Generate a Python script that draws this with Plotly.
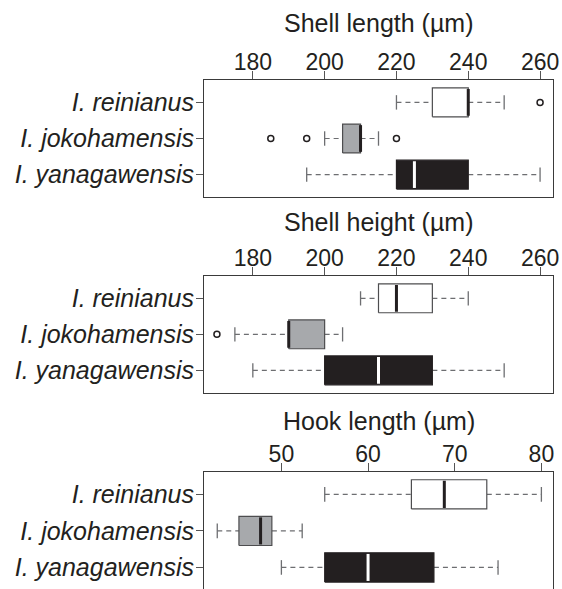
import plotly.graph_objects as go

# ---------------- data ----------------
categories = ["I. yanagawensis", "I. jokohamensis", "I. reinianus"]
positions = [1, 2, 3]

panel_titles = ["Shell length (µm)", "Shell height (µm)", "Hook length (µm)"]

# stats per category (order follows `categories`): low whisker, q1, median, q3, high whisker
shell_length_low = [195, 200, 220]
shell_length_q1 = [220, 205, 230]
shell_length_med = [225, 210, 240]
shell_length_q3 = [240, 210, 240]
shell_length_high = [260, 215, 250]
shell_length_out = [[], [185, 195, 220], [260]]

shell_height_low = [180, 175, 210]
shell_height_q1 = [200, 190, 215]
shell_height_med = [215, 190, 220]
shell_height_q3 = [230, 200, 230]
shell_height_high = [250, 205, 240]
shell_height_out = [[], [170], []]

hook_length_low = [50, 42.6, 55]
hook_length_q1 = [55, 45.1, 65]
hook_length_med = [60, 47.6, 68.8]
hook_length_q3 = [67.6, 48.9, 73.7]
hook_length_high = [75, 52.4, 80]
hook_length_out = [[], [], []]

shell_ticks = [180, 200, 220, 240, 260]
hook_ticks = [50, 60, 70, 80]

# ---------------- styles ----------------
box_fill = ["#231f20", "#a7a9ac", "#ffffff"]
box_edge = ["#231f20", "#4d4d4f", "#4d4d4f"]
median_col = ["#ffffff", "#231f20", "#231f20"]
whisk_col = "#6d6e71"
frame_col = "#3a3a3a"
FONT = "Liberation Sans, Arial, Helvetica, sans-serif"
HALF_W = 0.4
CAP = 0.2

panels = [
    (shell_length_low, shell_length_q1, shell_length_med, shell_length_q3, shell_length_high, shell_length_out,
     [166.4, 263.6], shell_ticks),
    (shell_height_low, shell_height_q1, shell_height_med, shell_height_q3, shell_height_high, shell_height_out,
     [166.4, 263.6], shell_ticks),
    (hook_length_low, hook_length_q1, hook_length_med, hook_length_q3, hook_length_high, hook_length_out,
     [41.07, 81.34], hook_ticks),
]

W, H = 562, 589
MT, MB, ML, MR = 80, 0, 204, 9
plot_h = H - MT - MB
def py(px):
    return (H - MB - px) / plot_h

domains = [[py(197), 1.0], [py(392.7), py(276)], [0.0, py(471.7)]]
yranges = [[0.38, 3.62], [0.38, 3.62], [0.41, 3.62]]
title_y = [23, 222, 421]

fig = go.Figure()
layout = dict(
    width=W, height=H,
    margin=dict(l=ML, r=MR, t=MT, b=MB, autoexpand=False),
    paper_bgcolor="white", plot_bgcolor="white",
    showlegend=False,
    font=dict(family=FONT, color="#231f20"),
    annotations=[],
)

for i, (lo, q1, med, q3, hi, outs, xr, ticks) in enumerate(panels):
    xa = "x" if i == 0 else f"x{i+1}"
    ya = "y" if i == 0 else f"y{i+1}"
    for j, p in enumerate(positions):
        # whiskers
        fig.add_trace(go.Scatter(
            x=[lo[j], q1[j], None, q3[j], hi[j]], y=[p, p, None, p, p],
            mode="lines", line=dict(color=whisk_col, width=1.2, dash="5px,4px"),
            xaxis=xa, yaxis=ya, hoverinfo="skip"))
        # caps
        fig.add_trace(go.Scatter(
            x=[lo[j], lo[j], None, hi[j], hi[j]],
            y=[p - CAP, p + CAP, None, p - CAP, p + CAP],
            mode="lines", line=dict(color=whisk_col, width=1.3),
            xaxis=xa, yaxis=ya, hoverinfo="skip"))
        # box
        fig.add_trace(go.Scatter(
            x=[q1[j], q3[j], q3[j], q1[j], q1[j]],
            y=[p - HALF_W, p - HALF_W, p + HALF_W, p + HALF_W, p - HALF_W],
            mode="lines", fill="toself", fillcolor=box_fill[j],
            line=dict(color=box_edge[j], width=1.2),
            xaxis=xa, yaxis=ya, hoverinfo="skip"))
        # median
        fig.add_trace(go.Scatter(
            x=[med[j], med[j]], y=[p - HALF_W + 0.03, p + HALF_W - 0.03],
            mode="lines", line=dict(color=median_col[j], width=3),
            xaxis=xa, yaxis=ya, hoverinfo="skip"))
        # outliers
        if outs[j]:
            fig.add_trace(go.Scatter(
                x=outs[j], y=[p] * len(outs[j]), mode="markers",
                marker=dict(symbol="circle-open", size=6, color="#231f20",
                            line=dict(width=1.5, color="#231f20")),
                xaxis=xa, yaxis=ya, hoverinfo="skip"))

    xkey = "xaxis" if i == 0 else f"xaxis{i+1}"
    ykey = "yaxis" if i == 0 else f"yaxis{i+1}"
    layout[xkey] = dict(
        domain=[0, 1], anchor=ya, side="top", range=xr, automargin=False,
        tickvals=ticks, ticktext=[str(t) for t in ticks],
        ticks="outside", ticklen=8, tickwidth=1, tickcolor="#555555",
        ticklabelstandoff=-8,
        tickfont=dict(size=23, family=FONT, color="#231f20"),
        showline=True, linecolor=frame_col, linewidth=1,
        mirror=(i < 2), showgrid=False, zeroline=False,
    )
    layout[ykey] = dict(
        domain=domains[i], anchor=xa, range=yranges[i], automargin=False,
        tickvals=positions, ticktext=categories,
        ticks="outside", ticklen=7, tickwidth=1, tickcolor="#555555",
        ticklabelstandoff=-3,
        tickfont=dict(size=25, family=FONT, color="#231f20", style="italic"),
        showline=True, linecolor=frame_col, linewidth=1, mirror=True,
        showgrid=False, zeroline=False,
    )
    layout["annotations"].append(dict(
        text=panel_titles[i], xref="paper", yref="paper", x=0.5, y=py(title_y[i]),
        xanchor="center", yanchor="middle", showarrow=False,
        font=dict(size=25, family=FONT, color="#231f20")))

fig.update_layout(**layout)
fig.write_html(
    "out.html",
    config={"displayModeBar": False},
    post_script="document.documentElement.style.margin='0';document.body.style.margin='0';"
                "document.body.style.padding='0';document.body.style.overflow='hidden';",
)
